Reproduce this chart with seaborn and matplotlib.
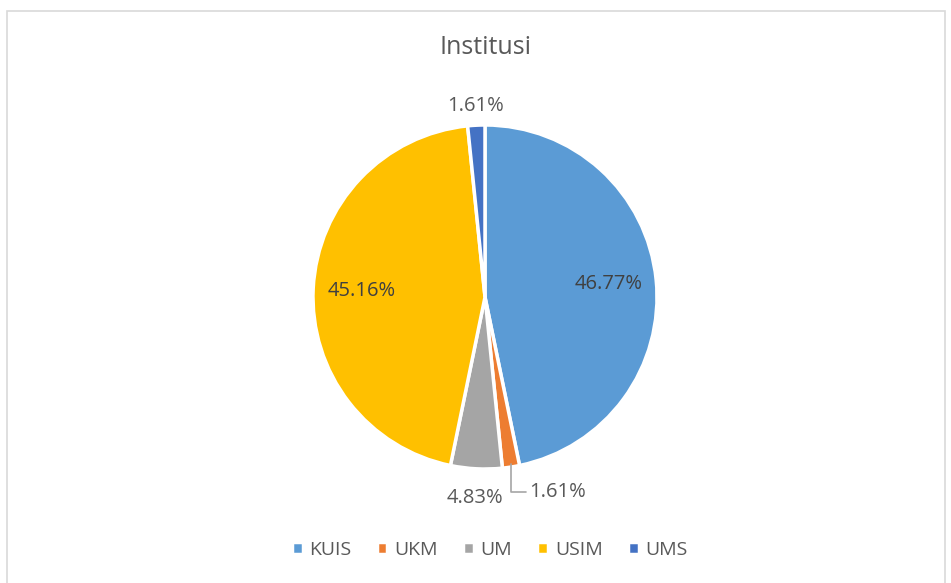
import numpy as np
import matplotlib
matplotlib.use("Agg")
import matplotlib.pyplot as plt
import seaborn as sns
from matplotlib.patches import Rectangle

# data
institusi = ["KUIS", "UKM", "UM", "USIM", "UMS"]
peratus = [46.77, 1.61, 4.83, 45.16, 1.61]
label_teks = ["46.77%", "1.61%", "4.83%", "45.16%", "1.61%"]
warna = ["#5B9BD5", "#ED7D31", "#A5A5A5", "#FFC000", "#4472C4"]

sns.set_style("white")
plt.rcParams["font.family"] = ["Open Sans", "DejaVu Sans"]

W, H = 951, 583
fig = plt.figure(figsize=(W / 100, H / 100), dpi=100)

# frame around the chart area
fig.patches.append(Rectangle((7 / W, -0.01), (945 - 7) / W, (H - 11) / H + 0.01,
                             transform=fig.transFigure, fill=False,
                             edgecolor="#d9d9d9", linewidth=1.2))

cx, cy, r = 485, 297, 172
ax = fig.add_axes([(cx - r) / W, (H - cy - r) / H, 2 * r / W, 2 * r / H])

wedges, texts, autotexts = ax.pie(
    peratus, colors=sns.color_palette(warna), startangle=90, counterclock=False,
    autopct="%1.2f%%", pctdistance=0.72,
    wedgeprops=dict(edgecolor="white", linewidth=2.5),
    textprops=dict(fontsize=14.5, color="#404040"))
ax.set_xlim(-1, 1)
ax.set_ylim(-1, 1)
ax.set_aspect("auto")

for t, lbl in zip(autotexts, label_teks):
    t.set_text(lbl)

# small slices: labels outside
def mid_angle(w):
    return np.deg2rad((w.theta1 + w.theta2) / 2)

for i, s in [(2, 1.17), (4, 1.11)]:
    a = mid_angle(wedges[i])
    autotexts[i].set_position((1.14 * np.cos(a), s * np.sin(a)))
    autotexts[i].set_color("#595959")

a = mid_angle(wedges[1])
autotexts[1].set_visible(False)
ax.annotate(label_teks[1], xy=(np.cos(a), 0.985 * np.sin(a)), xytext=(0.42, -1.135),
            ha="center", va="center", fontsize=14.5, color="#595959",
            arrowprops=dict(arrowstyle="-", color="#a6a6a6", lw=1.2,
                            connectionstyle="angle,angleA=0,angleB=90,rad=0",
                            shrinkA=0, shrinkB=0))

fig.text(cx / W, 1 - 48 / H, "Institusi", ha="center", va="center",
         fontsize=18, color="#595959")

fig.legend(wedges, institusi, loc="center", bbox_to_anchor=(0.515, 1 - 550 / H),
           ncol=5, frameon=False, handlelength=0.55, handleheight=0.55,
           handletextpad=0.35, columnspacing=1.3,
           prop=dict(size=14), labelcolor="#595959")

fig.savefig("out.png", dpi=100)
